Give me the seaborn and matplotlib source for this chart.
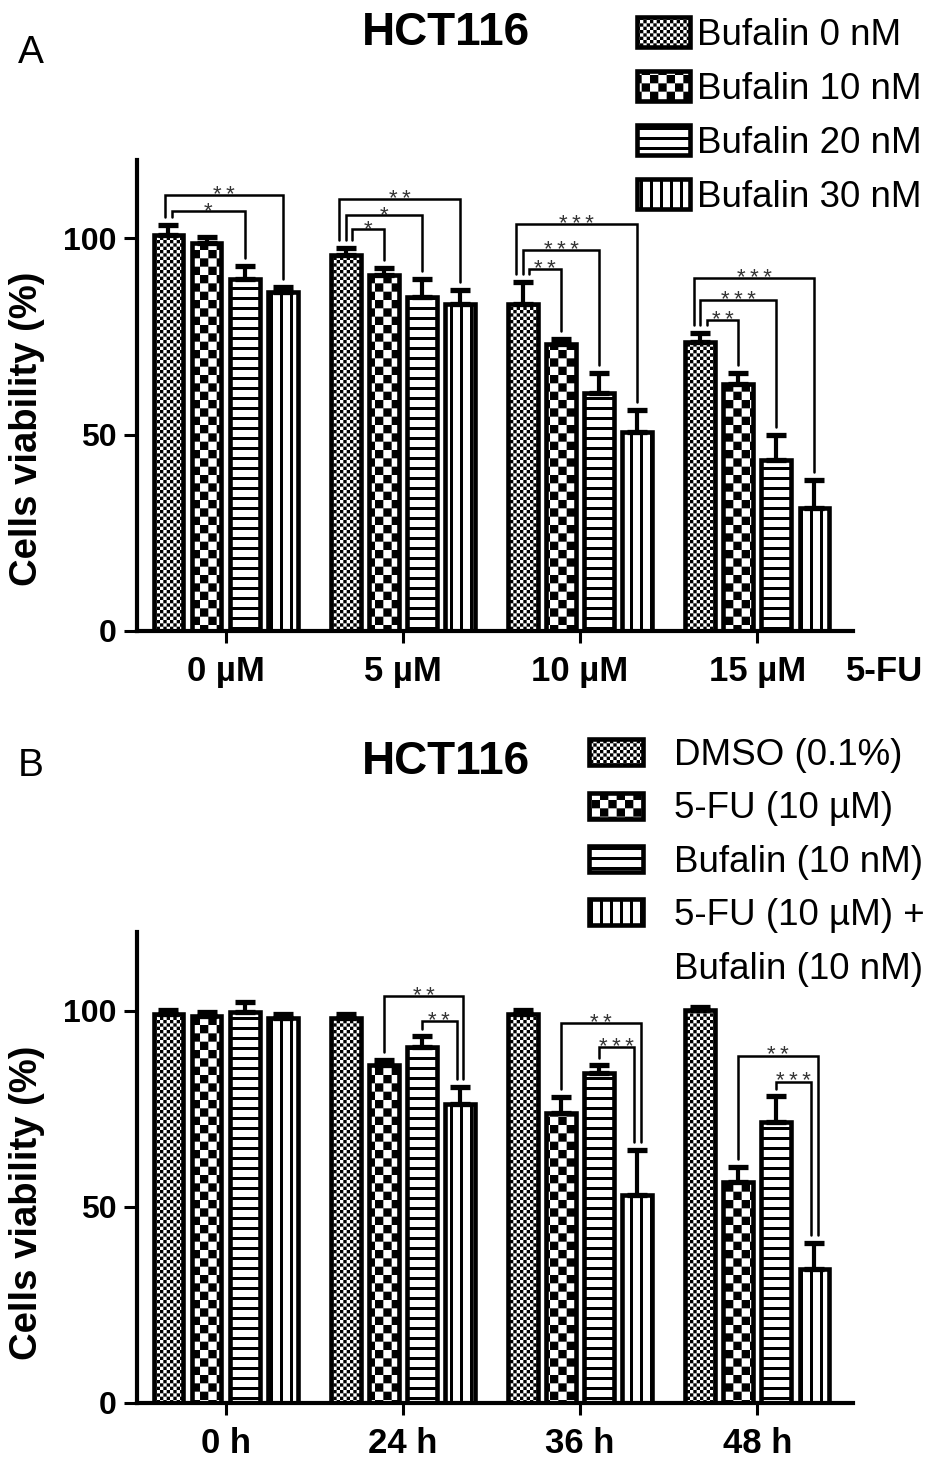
import numpy as np
import pandas as pd
import matplotlib
matplotlib.use('Agg')
import matplotlib.pyplot as plt
from matplotlib import hatch as mhatch
from matplotlib.path import Path
from matplotlib.patches import Patch
import seaborn as sns

# ---------------- data: panel A (5-FU dose x bufalin dose) ----------------
fu_doses = ['0 µM', '5 µM', '10 µM', '15 µM']
bufalin_doses = ['Bufalin 0 nM', 'Bufalin 10 nM', 'Bufalin 20 nM', 'Bufalin 30 nM']
viab_buf0 = [100.8, 95.7, 83.4, 73.7]
viab_buf10 = [98.9, 90.8, 73.0, 63.0]
viab_buf20 = [89.8, 85.2, 60.7, 43.6]
viab_buf30 = [86.4, 83.4, 50.8, 31.4]
err_buf0 = [2.6, 2.0, 5.6, 2.3]
err_buf10 = [1.5, 1.8, 1.5, 2.8]
err_buf20 = [3.3, 4.6, 5.1, 6.4]
err_buf30 = [1.3, 3.6, 5.6, 7.1]
# (group, bar from, bar to, bracket height, stars)
sig_a = [(0, 0, 2, 107.0, '*'), (0, 0, 3, 111.0, '**'),
         (1, 0, 1, 102.3, '*'), (1, 0, 2, 106.0, '*'), (1, 0, 3, 110.0, '**'),
         (2, 0, 1, 92.3, '**'), (2, 0, 2, 97.0, '***'), (2, 0, 3, 103.6, '***'),
         (3, 0, 1, 79.3, '**'), (3, 0, 2, 84.4, '***'), (3, 0, 3, 90.0, '***')]

# ---------------- data: panel B (time course) ----------------
times = ['0 h', '24 h', '36 h', '48 h']
treatments = ['DMSO (0.1%)', '5-FU (10 µM)', 'Bufalin (10 nM)',
              '5-FU (10 µM) +\nBufalin (10 nM)']
viab_dmso = [99.0, 98.2, 99.2, 100.2]
viab_fu = [98.5, 86.2, 74.0, 56.4]
viab_buf = [99.5, 90.8, 84.2, 71.7]
viab_combo = [98.0, 76.3, 53.0, 34.2]
err_dmso = [1.2, 1.0, 1.0, 0.8]
err_fu = [1.0, 1.3, 4.0, 3.8]
err_buf = [2.6, 2.6, 1.8, 6.4]
err_combo = [1.2, 4.3, 11.5, 6.6]
sig_b = [(1, 1, 3, 103.6, '**'), (1, 2, 3, 97.2, '**'),
         (2, 1, 3, 96.9, '**'), (2, 2, 3, 90.6, '***'),
         (3, 1, 3, 88.5, '**'), (3, 2, 3, 81.9, '***')]


# ---------------- custom hatches (checkerboards / thick stripes) ----------------
class CheckerHatch(mhatch.HatchPatternBase):
    symbol = 'o'
    cells = 30

    def __init__(self, hatch, density):
        self.num_vertices = 0
        if self.symbol in hatch:
            self.num_vertices = self.cells * self.cells // 2 * 5

    def set_vertices_and_codes(self, vertices, codes):
        s = 1.0 / self.cells
        sq = np.array([[0, 0], [1, 0], [1, 1], [0, 1], [0, 0]], float) * s
        k = 0
        for i in range(self.cells):
            for j in range(self.cells):
                if (i + j) % 2:
                    continue
                vertices[k:k + 5] = sq + [i * s, j * s]
                codes[k:k + 5] = [Path.MOVETO, Path.LINETO, Path.LINETO,
                                  Path.LINETO, Path.CLOSEPOLY]
                k += 5


class CoarseCheckerHatch(CheckerHatch):
    symbol = 'O'
    cells = 12


class StripeHatch(mhatch.HatchPatternBase):
    symbol = '-'
    count = 10
    thick = 0.03
    vertical = False

    def __init__(self, hatch, density):
        self.num_vertices = self.count * 5 if self.symbol in hatch else 0

    def set_vertices_and_codes(self, vertices, codes):
        for k in range(self.count):
            y0 = k / self.count
            rect = np.array([[0, y0], [1, y0], [1, y0 + self.thick],
                             [0, y0 + self.thick], [0, y0]])
            if self.vertical:
                rect = rect[:, ::-1]
            vertices[k * 5:k * 5 + 5] = rect
            codes[k * 5:k * 5 + 5] = [Path.MOVETO, Path.LINETO, Path.LINETO,
                                      Path.LINETO, Path.CLOSEPOLY]


class VStripeHatch(StripeHatch):
    symbol = '|'
    vertical = True


mhatch._hatch_types = [CheckerHatch, CoarseCheckerHatch, StripeHatch, VStripeHatch]
hatches = ['o', 'O', '-', '|']

sns.set_style('ticks')
plt.rcParams['font.family'] = ['Liberation Sans', 'DejaVu Sans']
plt.rcParams['hatch.linewidth'] = 0.0
plt.rcParams['hatch.color'] = 'black'
for key in ['text.color', 'axes.labelcolor', 'xtick.color', 'ytick.color',
            'axes.edgecolor']:
    plt.rcParams[key] = 'black'


def draw_panel(ax, groups, series, means, errs, sigs, shared_left):
    rows = []
    for s, vals in zip(series, means):
        for g, v in zip(groups, vals):
            rows.append({'group': g, 'series': s, 'viability': v})
    df = pd.DataFrame(rows)
    sns.barplot(data=df, x='group', y='viability', hue='series',
                order=groups, hue_order=series, palette=['white'] * 4,
                saturation=1, edgecolor='black', linewidth=3.3,
                width=0.86, gap=0.22, errorbar=None, legend=False, ax=ax)
    bar_conts = list(ax.containers)
    centers = []
    tops = []
    for cont, hatch, err in zip(bar_conts, hatches, errs):
        xs, ys = [], []
        for bar in cont:
            bar.set_hatch(hatch)
            xs.append(bar.get_x() + bar.get_width() / 2)
            ys.append(bar.get_height())
        xs, ys = np.array(xs), np.array(ys)
        ax.errorbar(xs, ys, yerr=[np.zeros(len(err)), err], fmt='none',
                    ecolor='black', elinewidth=3.0, capsize=7.2, capthick=3.8,
                    zorder=3)
        centers.append(xs)
        tops.append(ys + np.array(err))

    # significance brackets, legs spread when they share a bar
    step = 0.037
    for g in range(len(groups)):
        items = sorted([s for s in sigs if s[0] == g], key=lambda s: s[3])
        n = len(items)
        for rank, (_, i, j, h, stars) in enumerate(items):
            spread = (rank - (n - 1) / 2) * step
            xi, xj = centers[i][g], centers[j][g]
            if shared_left:
                xi -= spread
            else:
                xj += spread
            yi = tops[i][g] + 2.0
            yj = tops[j][g] + 2.0
            ax.plot([xi, xi, xj, xj], [yi, h, h, yj], color='black', lw=1.8,
                    solid_joinstyle='miter', zorder=4)
            ax.annotate('\u2009'.join(stars), xy=((xi + xj) / 2, h),
                        xytext=(0, -4.2), textcoords='offset points',
                        ha='center', va='baseline', fontsize=16, color='#333333')

    ax.set_xlim(-0.5, 3.54)
    ax.set_ylim(0, 120)
    ax.set_yticks([0, 50, 100])
    ax.set_yticklabels(['0', '50', '100'], fontsize=23, fontweight='bold')
    ax.set_xticks(range(len(groups)))
    ax.set_xticklabels(groups, fontsize=25, fontweight='bold')
    ax.tick_params(axis='y', length=9.5, width=2.2, pad=5)
    ax.tick_params(axis='x', length=8.6, width=2.2, pad=9)
    ax.set_xlabel('')
    ax.set_ylabel('Cells viability (%)', fontsize=27.5, fontweight='bold')
    for side in ['left', 'bottom']:
        ax.spines[side].set_linewidth(3.0)
    sns.despine(ax=ax)
    return bar_conts


fig = plt.figure(figsize=(9.45, 14.69), dpi=100)
W, H = 945.0, 1469.0

# ---------------- panel A ----------------
ax_a = fig.add_axes([137 / W, 1 - 631 / H, 716 / W, 471 / H])
conts_a = draw_panel(ax_a, fu_doses, bufalin_doses,
                     [viab_buf0, viab_buf10, viab_buf20, viab_buf30],
                     [err_buf0, err_buf10, err_buf20, err_buf30], sig_a, True)
ax_a.yaxis.set_label_coords(-0.128, 0.43)
ax_a.annotate('5-FU', xy=(3.72, 0), xycoords=('data', 'axes fraction'),
              xytext=(0, -17.6), textcoords='offset points', ha='center',
              va='top', fontsize=25, fontweight='bold')
ax_a.legend(conts_a, bufalin_doses, loc='upper left', frameon=False,
            bbox_to_anchor=(637 / W, 1 - 17 / H), bbox_transform=fig.transFigure,
            borderpad=0, borderaxespad=0, fontsize=26.5, handlelength=1.44,
            handleheight=0.87, handletextpad=0.2, labelspacing=0.5)

# ---------------- panel B ----------------
ax_b = fig.add_axes([137 / W, 1 - 1403 / H, 716 / W, 471 / H])
conts_b = draw_panel(ax_b, times, treatments,
                     [viab_dmso, viab_fu, viab_buf, viab_combo],
                     [err_dmso, err_fu, err_buf, err_combo], sig_b, False)
ax_b.yaxis.set_label_coords(-0.128, 0.425)
# the two-line last entry: box beside the first line only
labels_b = treatments[:3] + treatments[3].split('\n')
handles_b = conts_b + [Patch(facecolor='none', edgecolor='none')]
ax_b.legend(handles_b, labels_b, loc='upper left', frameon=False,
            bbox_to_anchor=(589 / W, 1 - 738 / H), bbox_transform=fig.transFigure,
            borderpad=0, borderaxespad=0, fontsize=26.5, handlelength=1.47,
            handleheight=0.71, handletextpad=0.85, labelspacing=0.5)

# panel letters and titles
fig.text(31 / W, 1 - 63 / H, 'A', fontsize=28, ha='center', va='baseline')
fig.text(31 / W, 1 - 776 / H, 'B', fontsize=28, ha='center', va='baseline')
fig.text(446 / W, 1 - 45 / H, 'HCT116', fontsize=33, fontweight='bold',
         ha='center', va='baseline')
fig.text(446 / W, 1 - 774 / H, 'HCT116', fontsize=33, fontweight='bold',
         ha='center', va='baseline')

fig.savefig('out.png', dpi=100)
